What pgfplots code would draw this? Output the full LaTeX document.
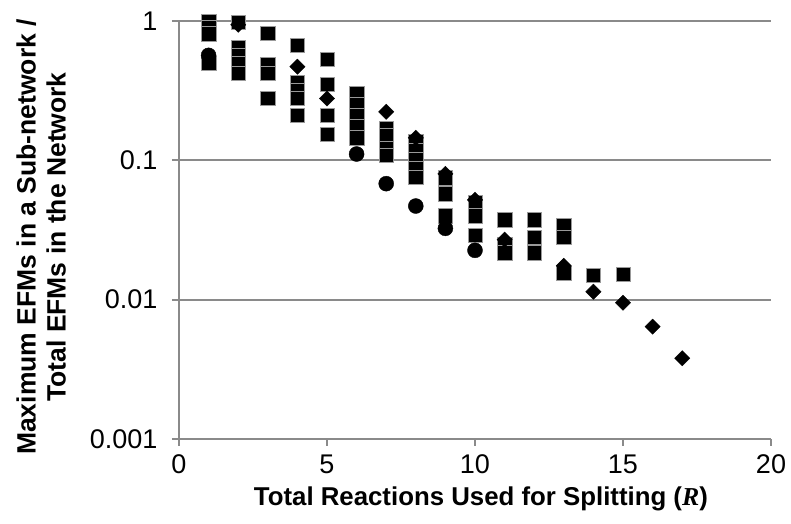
\documentclass[border=0pt]{standalone}
\usepackage{fontspec}
\setmainfont{Liberation Sans}
\newfontfamily\serifbf{Liberation Serif}
\usepackage{pgfplots}
\pgfplotsset{compat=1.18}
\usepackage{pgfplotstable}

\definecolor{axisgray}{RGB}{138,138,138}
\newcommand{\xlabelfont}{\fontsize{25.8bp}{30bp}\selectfont\bfseries}
\newcommand{\ylabelfont}{\fontsize{26.5bp}{30bp}\selectfont\bfseries}

% Largest sub-network EFM fraction against number of splitting reactions
\pgfplotstableread{
x y
1 0.99
1 0.90
1 0.81
1 0.50
2 0.98
2 0.65
2 0.57
2 0.50
2 0.42
3 0.82
3 0.49
3 0.42
3 0.28
4 0.67
4 0.36
4 0.32
4 0.28
4 0.21
5 0.53
5 0.353
5 0.21
5 0.154
6 0.30
6 0.25
6 0.21
6 0.175
6 0.145
7 0.17
7 0.15
7 0.122
7 0.109
8 0.137
8 0.118
8 0.102
8 0.088
8 0.076
9 0.075
9 0.0575
9 0.040
10 0.050
10 0.040
10 0.029
11 0.0375
11 0.0249
11 0.0217
12 0.0375
12 0.028
12 0.0217
13 0.034
13 0.028
13 0.0155
14 0.015
15 0.0152
}\squaredata

\pgfplotstableread{
x y
1 0.567
6 0.111
7 0.068
8 0.047
9 0.0325
10 0.0226
}\circledata

\pgfplotstableread{
x y
2 0.94
4 0.47
5 0.278
7 0.223
8 0.145
9 0.080
10 0.052
11 0.027
13 0.0175
14 0.0114
15 0.0095
16 0.0064
17 0.0038
}\diamonddata

\begin{document}
\begin{tikzpicture}
\begin{axis}[
  at={(0,0)}, anchor=south west,
  scale only axis,
  width=592bp, height=418bp,
  xmin=0, xmax=20,
  ymode=log, ymin=0.001, ymax=1,
  xtick={0,5,10,15,20},
  ytick={0.001,0.01,0.1,1},
  yticklabels={0.001,0.01,0.1,1},
  yminorticks=false,
  axis x line*=bottom,
  axis y line*=left,
  axis line style={axisgray, line width=2.2bp},
  tick style={axisgray, line width=2.2bp},
  tick align=outside,
  major tick length=7bp,
  ymajorgrids,
  major grid style={axisgray, line width=2.2bp},
  clip=false,
  /pgf/number format/assume math mode=true,
  tick label style={font=\fontsize{27bp}{30bp}\selectfont, black},
  yticklabel style={xshift=-11bp},
  xticklabel style={yshift=-5bp},
  xlabel={Total Reactions Used for Splitting ({\serifbf\bfseries\itshape R})},
  ylabel={Maximum EFMs in a Sub-network /\\Total EFMs in the Network},
  every axis x label/.style={at={(axis description cs:0.51,-0.143)}, anchor=center, font=\xlabelfont},
  every axis y label/.style={at={(axis description cs:-0.2330,0.4833)}, anchor=center, rotate=90, align=center, font=\ylabelfont},
]
\addplot[only marks, mark=square*, mark size=7.2bp, black,
  mark options={fill=black, draw=white!60!black, line width=0.4bp}] table[x=x, y=y] {\squaredata};
\addplot[only marks, mark=*, mark size=7.5bp, black] table[x=x, y=y] {\circledata};
\addplot[only marks, mark=square*, mark size=5.4bp, black, mark options={rotate=45}] table[x=x, y=y] {\diamonddata};
\end{axis}
\pgfresetboundingbox
\useasboundingbox (-179bp,-85bp) rectangle (612bp,439bp);
\end{tikzpicture}
\end{document}
